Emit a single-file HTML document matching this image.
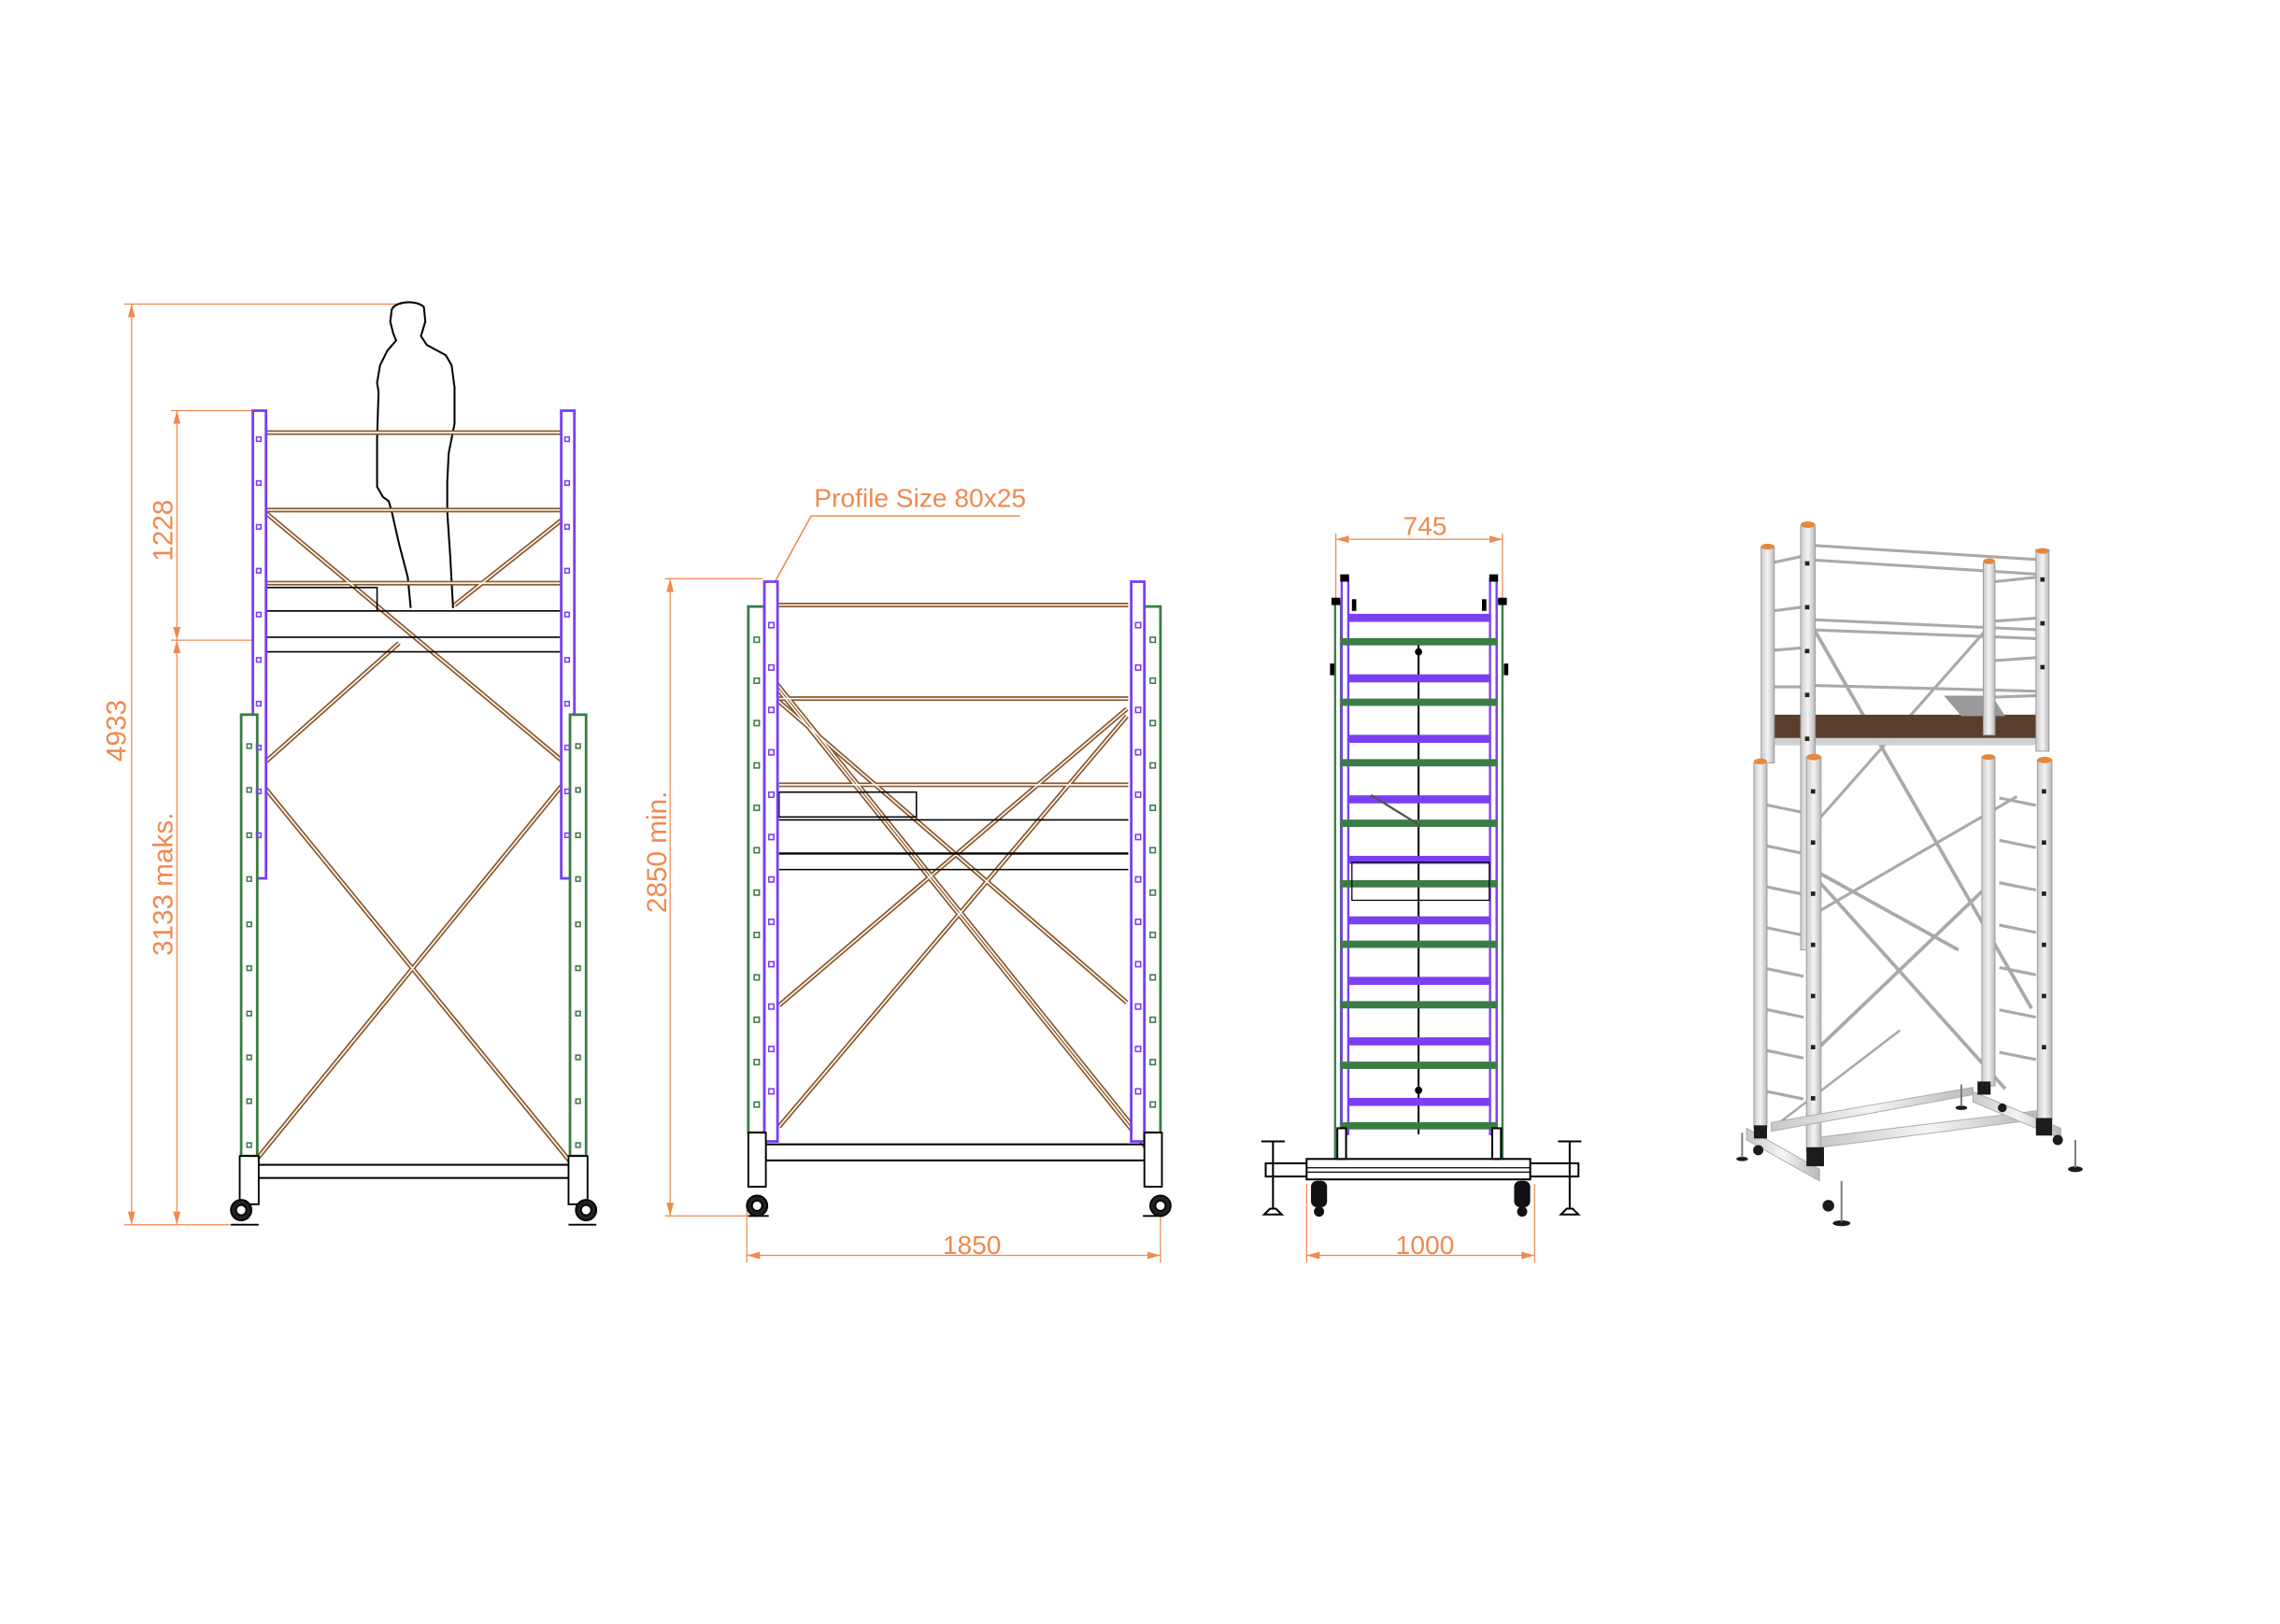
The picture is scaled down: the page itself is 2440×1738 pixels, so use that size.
<!DOCTYPE html>
<html><head><meta charset="utf-8"><style>
html,body{margin:0;padding:0;background:#fff;}
svg{display:block;}
text{font-family:"Liberation Sans",sans-serif;fill:#f0894f;}
</style></head><body>
<svg width="2440" height="1738" viewBox="0 0 1560 1111.2" xmlns="http://www.w3.org/2000/svg">
<defs>
<marker id="ar" viewBox="0 0 10 10" refX="10" refY="5" markerWidth="9" markerHeight="5" markerUnits="userSpaceOnUse" orient="auto-start-reverse" preserveAspectRatio="none"><path d="M0,0L10,5L0,10z" fill="#f0894f"/></marker>
<pattern id="gh" width="20" height="34.4" patternUnits="userSpaceOnUse" y="2"><rect x="0" y="0" width="20" height="34.4" fill="none"/></pattern>
<linearGradient id="al" x1="0" x2="1"><stop offset="0" stop-color="#c8c8c8"/><stop offset=".5" stop-color="#f4f4f4"/><stop offset="1" stop-color="#b8b8b8"/></linearGradient>
</defs>

<!-- ============ LEFT VIEW ============ -->
<g stroke="#f0894f" stroke-width="0.8" fill="none">
<line x1="85" y1="208" x2="275" y2="208"/>
<line x1="85" y1="838" x2="165" y2="838"/>
<line x1="90" y1="208" x2="90" y2="838" marker-start="url(#ar)" marker-end="url(#ar)"/>
<line x1="117" y1="281" x2="175" y2="281"/>
<line x1="117" y1="438" x2="175" y2="438"/>
<line x1="121" y1="281" x2="121" y2="438" marker-start="url(#ar)" marker-end="url(#ar)"/>
<line x1="121" y1="438" x2="121" y2="838" marker-start="url(#ar)" marker-end="url(#ar)"/>
</g>
<text transform="translate(86,500) rotate(-90)" font-size="19" text-anchor="middle">4933</text>
<text transform="translate(118,363) rotate(-90)" font-size="19" text-anchor="middle">1228</text>
<text transform="translate(118,605) rotate(-90)" font-size="19" text-anchor="middle">3133 maks.</text>

<!-- person -->
<path d="M281,416 L279,395 L273,372 L268,350 L266,343 L262,340 L258,333 L258,300 L259,268 L258,262 L260,250 L265,240 L271,233 L269,228 L267,220 L268,212 C270,206 285,205 290,210 L291,220 L288,230 L292,236 L305,243 L309,250 L311,265 L311,290 L307,310 L306,330 L306,350 L308,380 L310,416" fill="none" stroke="#000" stroke-width="1.3"/>

<!-- rails left view -->
<g fill="none" stroke="#8b5a2b" stroke-width="3.2">
<line x1="182" y1="296" x2="384" y2="296"/>
<line x1="182" y1="349" x2="384" y2="349"/>
<line x1="182" y1="399" x2="384" y2="399"/>
<line x1="182" y1="351" x2="384" y2="520"/>
<line x1="182" y1="521" x2="273" y2="440"/>
<line x1="311" y1="414" x2="384" y2="356"/>
<line x1="169" y1="524" x2="396" y2="802"/>
<line x1="175" y1="794" x2="384" y2="538"/>
</g>
<g fill="none" stroke="#fff" stroke-width="1">
<line x1="182" y1="296" x2="384" y2="296"/>
<line x1="182" y1="349" x2="384" y2="349"/>
<line x1="182" y1="399" x2="384" y2="399"/>
<line x1="182" y1="351" x2="384" y2="520"/>
<line x1="182" y1="521" x2="273" y2="440"/>
<line x1="311" y1="414" x2="384" y2="356"/>
<line x1="169" y1="524" x2="396" y2="802"/>
<line x1="175" y1="794" x2="384" y2="538"/>
</g>
<g fill="none" stroke="#000" stroke-width="1">
<rect x="182" y="402" width="76" height="16"/>
<line x1="182" y1="418" x2="384" y2="418"/>
<line x1="182" y1="436" x2="384" y2="436"/>
<line x1="182" y1="446" x2="384" y2="446"/>
<rect x="176" y="797" width="214" height="9" stroke-width="1.3"/>
</g>
<!-- posts left view -->
<g fill="#fff" stroke="#7b3ff2" stroke-width="1.8">
<rect x="173" y="281" width="9" height="320"/>
<rect x="384" y="281" width="9" height="320"/>
</g>
<g fill="#fff" stroke="#3a7d44" stroke-width="1.8">
<rect x="165" y="489" width="11" height="302"/>
<rect x="390" y="489" width="11" height="302"/>
</g>
<g fill="none" stroke="#7b3ff2" stroke-width="1">
<rect x="175.5" y="299" width="3" height="3"/><rect x="175.5" y="329" width="3" height="3"/><rect x="175.5" y="359" width="3" height="3"/><rect x="175.5" y="389" width="3" height="3"/><rect x="175.5" y="419" width="3" height="3"/><rect x="175.5" y="450" width="3" height="3"/><rect x="175.5" y="480" width="3" height="3"/><rect x="175.5" y="510" width="3" height="3"/><rect x="175.5" y="540" width="3" height="3"/><rect x="175.5" y="570" width="3" height="3"/>
<rect x="386.5" y="299" width="3" height="3"/><rect x="386.5" y="329" width="3" height="3"/><rect x="386.5" y="359" width="3" height="3"/><rect x="386.5" y="389" width="3" height="3"/><rect x="386.5" y="419" width="3" height="3"/><rect x="386.5" y="450" width="3" height="3"/><rect x="386.5" y="480" width="3" height="3"/><rect x="386.5" y="510" width="3" height="3"/><rect x="386.5" y="540" width="3" height="3"/><rect x="386.5" y="570" width="3" height="3"/>
</g>
<g fill="none" stroke="#3a7d44" stroke-width="1">
<rect x="169" y="509" width="3" height="3"/><rect x="169" y="539" width="3" height="3"/><rect x="169" y="570" width="3" height="3"/><rect x="169" y="600" width="3" height="3"/><rect x="169" y="631" width="3" height="3"/><rect x="169" y="661" width="3" height="3"/><rect x="169" y="692" width="3" height="3"/><rect x="169" y="722" width="3" height="3"/><rect x="169" y="752" width="3" height="3"/><rect x="169" y="782" width="3" height="3"/>
<rect x="394" y="509" width="3" height="3"/><rect x="394" y="539" width="3" height="3"/><rect x="394" y="570" width="3" height="3"/><rect x="394" y="600" width="3" height="3"/><rect x="394" y="631" width="3" height="3"/><rect x="394" y="661" width="3" height="3"/><rect x="394" y="692" width="3" height="3"/><rect x="394" y="722" width="3" height="3"/><rect x="394" y="752" width="3" height="3"/><rect x="394" y="782" width="3" height="3"/>
</g>
<!-- casters left -->
<g stroke="#000" stroke-width="1.2" fill="#fff">
<rect x="164" y="791" width="13" height="33"/><rect x="389" y="791" width="13" height="33"/>
<circle cx="165" cy="828" r="7" fill="#222"/><circle cx="165" cy="828" r="3.5" fill="#fff"/>
<circle cx="401" cy="828" r="7" fill="#222"/><circle cx="401" cy="828" r="3.5" fill="#fff"/>
<path d="M158,838 h19 M389,838 h19" />
</g>

<!-- ============ MIDDLE VIEW ============ -->
<g stroke="#f0894f" stroke-width="0.8" fill="none">
<line x1="455" y1="396" x2="522" y2="396"/>
<line x1="455" y1="832" x2="515" y2="832"/>
<line x1="458.5" y1="396" x2="458.5" y2="832" marker-start="url(#ar)" marker-end="url(#ar)"/>
<line x1="511" y1="828" x2="511" y2="864"/>
<line x1="794" y1="828" x2="794" y2="864"/>
<line x1="511" y1="859" x2="794" y2="859" marker-start="url(#ar)" marker-end="url(#ar)"/>
<polyline points="527,404 555,353 698,353" stroke-width="1"/>
</g>
<text transform="translate(456,583) rotate(-90)" font-size="19" text-anchor="middle">2850 min.</text>
<text x="665" y="858" font-size="18" text-anchor="middle">1850</text>
<text x="557" y="347" font-size="18">Profile Size 80x25</text>

<g fill="none" stroke="#8b5a2b" stroke-width="3.2">
<line x1="533" y1="414" x2="772" y2="414"/>
<line x1="533" y1="478" x2="772" y2="478"/>
<line x1="533" y1="537" x2="772" y2="537"/>
<line x1="519" y1="455" x2="788" y2="790"/>
<line x1="526" y1="461" x2="780" y2="777"/>
<line x1="533" y1="480" x2="771" y2="686"/>
<line x1="533" y1="688" x2="771" y2="485"/>
<line x1="533" y1="771" x2="771" y2="490"/>
</g>
<g fill="none" stroke="#fff" stroke-width="1">
<line x1="533" y1="414" x2="772" y2="414"/>
<line x1="533" y1="478" x2="772" y2="478"/>
<line x1="533" y1="537" x2="772" y2="537"/>
<line x1="519" y1="455" x2="788" y2="790"/>
<line x1="526" y1="461" x2="780" y2="777"/>
<line x1="533" y1="480" x2="771" y2="686"/>
<line x1="533" y1="688" x2="771" y2="485"/>
<line x1="533" y1="771" x2="771" y2="490"/>
</g>
<g fill="none" stroke="#000" stroke-width="1">
<rect x="533" y="542" width="94" height="17"/>
<line x1="533" y1="561" x2="772" y2="561"/>
<line x1="533" y1="584" x2="772" y2="584" stroke-width="1.5"/>
<line x1="533" y1="595" x2="772" y2="595"/>
<rect x="524" y="783" width="262" height="11" stroke-width="1.3"/>
</g>
<g fill="#fff" stroke="#3a7d44" stroke-width="1.8">
<rect x="512" y="415" width="11" height="360"/>
<rect x="783" y="415" width="11" height="360"/>
</g>
<g fill="#fff" stroke="#7b3ff2" stroke-width="1.8">
<rect x="523" y="398" width="9" height="383"/>
<rect x="774" y="398" width="9" height="383"/>
</g>
<g fill="none" stroke="#3a7d44" stroke-width="1">
<rect x="516" y="436" width="3.5" height="3.5"/><rect x="516" y="464" width="3.5" height="3.5"/><rect x="516" y="493" width="3.5" height="3.5"/><rect x="516" y="522" width="3.5" height="3.5"/><rect x="516" y="551" width="3.5" height="3.5"/><rect x="516" y="580" width="3.5" height="3.5"/><rect x="516" y="609" width="3.5" height="3.5"/><rect x="516" y="638" width="3.5" height="3.5"/><rect x="516" y="667" width="3.5" height="3.5"/><rect x="516" y="696" width="3.5" height="3.5"/><rect x="516" y="725" width="3.5" height="3.5"/><rect x="516" y="754" width="3.5" height="3.5"/>
<rect x="787" y="436" width="3.5" height="3.5"/><rect x="787" y="464" width="3.5" height="3.5"/><rect x="787" y="493" width="3.5" height="3.5"/><rect x="787" y="522" width="3.5" height="3.5"/><rect x="787" y="551" width="3.5" height="3.5"/><rect x="787" y="580" width="3.5" height="3.5"/><rect x="787" y="609" width="3.5" height="3.5"/><rect x="787" y="638" width="3.5" height="3.5"/><rect x="787" y="667" width="3.5" height="3.5"/><rect x="787" y="696" width="3.5" height="3.5"/><rect x="787" y="725" width="3.5" height="3.5"/><rect x="787" y="754" width="3.5" height="3.5"/>
</g>
<g fill="none" stroke="#7b3ff2" stroke-width="1">
<rect x="526" y="426" width="3.5" height="3.5"/><rect x="526" y="455" width="3.5" height="3.5"/><rect x="526" y="484" width="3.5" height="3.5"/><rect x="526" y="513" width="3.5" height="3.5"/><rect x="526" y="542" width="3.5" height="3.5"/><rect x="526" y="571" width="3.5" height="3.5"/><rect x="526" y="600" width="3.5" height="3.5"/><rect x="526" y="629" width="3.5" height="3.5"/><rect x="526" y="658" width="3.5" height="3.5"/><rect x="526" y="687" width="3.5" height="3.5"/><rect x="526" y="716" width="3.5" height="3.5"/><rect x="526" y="745" width="3.5" height="3.5"/>
<rect x="777" y="426" width="3.5" height="3.5"/><rect x="777" y="455" width="3.5" height="3.5"/><rect x="777" y="484" width="3.5" height="3.5"/><rect x="777" y="513" width="3.5" height="3.5"/><rect x="777" y="542" width="3.5" height="3.5"/><rect x="777" y="571" width="3.5" height="3.5"/><rect x="777" y="600" width="3.5" height="3.5"/><rect x="777" y="629" width="3.5" height="3.5"/><rect x="777" y="658" width="3.5" height="3.5"/><rect x="777" y="687" width="3.5" height="3.5"/><rect x="777" y="716" width="3.5" height="3.5"/><rect x="777" y="745" width="3.5" height="3.5"/>
</g>
<g stroke="#000" stroke-width="1.2" fill="#fff">
<rect x="512" y="775" width="12" height="37"/><rect x="783" y="775" width="12" height="37"/>
<circle cx="518" cy="825" r="7" fill="#222"/><circle cx="518" cy="825" r="3.5" fill="#fff"/>
<circle cx="794" cy="825" r="7" fill="#222"/><circle cx="794" cy="825" r="3.5" fill="#fff"/>
<path d="M512,832 h14 M782,832 h14"/>
</g>

<!-- ============ SIDE VIEW ============ -->
<g stroke="#f0894f" stroke-width="0.8" fill="none">
<line x1="914" y1="365" x2="914" y2="412"/>
<line x1="1028" y1="365" x2="1028" y2="412"/>
<line x1="914" y1="369" x2="1028" y2="369" marker-start="url(#ar)" marker-end="url(#ar)"/>
<line x1="894" y1="810" x2="894" y2="864"/>
<line x1="1050" y1="810" x2="1050" y2="864"/>
<line x1="894" y1="859" x2="1050" y2="859" marker-start="url(#ar)" marker-end="url(#ar)"/>
</g>
<text x="975" y="366" font-size="18" text-anchor="middle">745</text>
<text x="975" y="858" font-size="18" text-anchor="middle">1000</text>

<g fill="#fff" stroke="#3a7d44" stroke-width="1.5">
<rect x="913.5" y="411" width="4" height="382"/>
<rect x="1024" y="411" width="4" height="382"/>
</g>
<g fill="#fff" stroke="#7b3ff2" stroke-width="1.5">
<rect x="918" y="396" width="4.5" height="380"/>
<rect x="1019.5" y="396" width="4.5" height="380"/>
</g>
<line x1="970.6" y1="440" x2="970.6" y2="776" stroke="#000" stroke-width="1.3"/>
<g fill="#7b3ff2">
<rect x="922" y="420" width="98" height="5.5"/><rect x="922" y="461.4" width="98" height="5.5"/><rect x="922" y="502.8" width="98" height="5.5"/><rect x="922" y="544.2" width="98" height="5.5"/><rect x="922" y="585.6" width="98" height="5.5"/><rect x="922" y="627" width="98" height="5.5"/><rect x="922" y="668.4" width="98" height="5.5"/><rect x="922" y="709.8" width="98" height="5.5"/><rect x="922" y="751.2" width="98" height="5.5"/>
</g>
<g fill="#3a7d44">
<rect x="917.5" y="436.6" width="107" height="5"/><rect x="917.5" y="478" width="107" height="5"/><rect x="917.5" y="519.4" width="107" height="5"/><rect x="917.5" y="560.8" width="107" height="5"/><rect x="917.5" y="602.2" width="107" height="5"/><rect x="917.5" y="643.6" width="107" height="5"/><rect x="917.5" y="685" width="107" height="5"/><rect x="917.5" y="726.4" width="107" height="5"/><rect x="917.5" y="767.8" width="107" height="5"/>
</g>
<g fill="#000">
<rect x="917" y="393" width="6" height="5"/><rect x="1019" y="393" width="6" height="5"/>
<rect x="911" y="409" width="6" height="5"/><rect x="1025" y="409" width="6" height="5"/>
<rect x="925" y="410" width="3" height="8"/><rect x="1014" y="410" width="3" height="8"/>
<rect x="910" y="454" width="3" height="8"/><rect x="1029" y="454" width="3" height="8"/>
<circle cx="970.6" cy="446" r="2.5"/><circle cx="970.6" cy="746" r="2.5"/>
</g>
<rect x="925" y="590" width="94" height="26" fill="none" stroke="#000" stroke-width="0.8"/>
<line x1="938" y1="544" x2="972" y2="565" stroke="#555" stroke-width="1.5"/>
<!-- base -->
<g stroke="#000" stroke-width="1.3" fill="#fff">
<rect x="866" y="796" width="214" height="9"/>
<rect x="894" y="793" width="153" height="14"/>
<line x1="894" y1="799" x2="1047" y2="799" stroke-width="0.8"/>
<line x1="894" y1="802" x2="1047" y2="802" stroke-width="0.8"/>
<rect x="915" y="772" width="6" height="21"/><rect x="1021" y="772" width="6" height="21"/>
<line x1="871" y1="781" x2="871" y2="829"/><line x1="863" y1="781" x2="879" y2="781"/>
<line x1="1074" y1="781" x2="1074" y2="829"/><line x1="1066" y1="781" x2="1082" y2="781"/>
<path d="M865,831 l4,-4 h4 l4,4z M1068,831 l4,-4 h4 l4,4z" fill="#fff"/>
</g>
<g fill="#111">
<rect x="897" y="808" width="11" height="18" rx="4"/><rect x="1036" y="808" width="11" height="18" rx="4"/>
<circle cx="902.5" cy="829" r="3.5"/><circle cx="1041.5" cy="829" r="3.5"/>
</g>

<!-- ============ 3D RENDER ============ -->
<g>
<!-- upper rails -->
<g stroke="#a9a9a9" stroke-width="2" fill="none">
<line x1="1238" y1="373" x2="1396" y2="383"/>
<line x1="1238" y1="383" x2="1396" y2="393"/>
<line x1="1213" y1="385" x2="1236" y2="380"/>
<line x1="1213" y1="418" x2="1236" y2="415"/>
<line x1="1213" y1="445" x2="1236" y2="443"/>
<line x1="1213" y1="470" x2="1236" y2="470"/>
<line x1="1240" y1="424" x2="1396" y2="431"/>
<line x1="1240" y1="431" x2="1396" y2="437"/>
<line x1="1240" y1="469" x2="1396" y2="473"/>
<line x1="1365" y1="398" x2="1393" y2="395"/>
<line x1="1365" y1="425" x2="1393" y2="423"/>
<line x1="1365" y1="452" x2="1393" y2="450"/>
<line x1="1365" y1="477" x2="1393" y2="476"/>
<!-- diagonals -->
<line x1="1242" y1="432" x2="1390" y2="690" stroke-width="2.4"/>
<line x1="1242" y1="625" x2="1380" y2="545" stroke-width="2"/>
<line x1="1245" y1="560" x2="1358" y2="432" stroke-width="2"/>
<line x1="1246" y1="598" x2="1340" y2="650" stroke-width="2.4"/>
<line x1="1240" y1="598" x2="1372" y2="745" stroke-width="2.4"/>
<line x1="1241" y1="720" x2="1356" y2="610" stroke-width="2.4"/>
<line x1="1215" y1="770" x2="1300" y2="705" stroke-width="1.6"/>
<!-- lower ladder rungs -->
<line x1="1205" y1="550" x2="1234" y2="556"/>
<line x1="1205" y1="578" x2="1234" y2="584"/>
<line x1="1205" y1="606" x2="1234" y2="612"/>
<line x1="1205" y1="634" x2="1234" y2="640"/>
<line x1="1205" y1="662" x2="1234" y2="668"/>
<line x1="1205" y1="690" x2="1234" y2="696"/>
<line x1="1205" y1="718" x2="1234" y2="724"/>
<line x1="1205" y1="746" x2="1234" y2="752"/>
<line x1="1368" y1="546" x2="1393" y2="551"/>
<line x1="1368" y1="575" x2="1393" y2="580"/>
<line x1="1368" y1="604" x2="1393" y2="609"/>
<line x1="1368" y1="633" x2="1393" y2="638"/>
<line x1="1368" y1="662" x2="1393" y2="667"/>
<line x1="1368" y1="691" x2="1393" y2="696"/>
<line x1="1368" y1="720" x2="1393" y2="725"/>
</g>
<!-- platform -->
<polygon points="1208,489 1395,489 1395,505 1208,505" fill="#5a3e2b"/>
<polygon points="1210,505 1395,505 1392,510 1215,510" fill="#d0d0d0"/>
<polygon points="1330,476 1363,476 1372,490 1342,490" fill="#9a9a9a"/>
<!-- posts -->
<g fill="url(#al)" stroke="#9a9a9a" stroke-width="0.6">
<rect x="1205" y="374" width="9" height="148"/>
<rect x="1357" y="385" width="8" height="118"/>
<rect x="1232" y="360" width="10" height="290"/>
<rect x="1393" y="376" width="9" height="138"/>
<rect x="1200" y="522" width="9" height="250"/>
<rect x="1236" y="518" width="10" height="270"/>
<rect x="1356" y="518" width="9" height="225"/>
<rect x="1394" y="520" width="10" height="255"/>
</g>
<g fill="#e8873a">
<ellipse cx="1237" cy="359" rx="5" ry="2.2"/><ellipse cx="1209.5" cy="374" rx="4.5" ry="2"/>
<ellipse cx="1397.5" cy="377" rx="4.5" ry="2"/><ellipse cx="1361" cy="384" rx="4" ry="2"/>
<ellipse cx="1241" cy="518" rx="5" ry="2.2"/><ellipse cx="1204.5" cy="521" rx="4.5" ry="2"/>
<ellipse cx="1399" cy="520" rx="5" ry="2.2"/><ellipse cx="1360.5" cy="518" rx="4.5" ry="2"/>
</g>
<g fill="#222">
<rect x="1235" y="384" width="3" height="3"/><rect x="1235" y="414" width="3" height="3"/><rect x="1235" y="444" width="3" height="3"/><rect x="1235" y="474" width="3" height="3"/><rect x="1235" y="504" width="3" height="3"/>
<rect x="1239" y="540" width="3" height="3"/><rect x="1239" y="575" width="3" height="3"/><rect x="1239" y="610" width="3" height="3"/><rect x="1239" y="645" width="3" height="3"/><rect x="1239" y="680" width="3" height="3"/><rect x="1239" y="715" width="3" height="3"/><rect x="1239" y="750" width="3" height="3"/>
<rect x="1396" y="395" width="3" height="3"/><rect x="1396" y="425" width="3" height="3"/><rect x="1396" y="455" width="3" height="3"/>
<rect x="1397" y="540" width="3" height="3"/><rect x="1397" y="575" width="3" height="3"/><rect x="1397" y="610" width="3" height="3"/><rect x="1397" y="645" width="3" height="3"/><rect x="1397" y="680" width="3" height="3"/><rect x="1397" y="715" width="3" height="3"/>
</g>
<!-- base -->
<g stroke="#aaa" stroke-width="0.6" fill="url(#al)">
<polygon points="1246,778 1394,760 1394,766 1246,785"/>
<polygon points="1212,768 1350,744 1350,749 1212,774"/>
<polygon points="1195,772 1245,800 1245,808 1195,780"/>
<polygon points="1350,747 1410,772 1410,779 1350,754"/>
</g>
<g fill="#1c1c1c">
<rect x="1236" y="785" width="12" height="13"/><rect x="1200" y="770" width="9" height="9"/>
<rect x="1393" y="765" width="11" height="12"/><rect x="1353" y="740" width="9" height="9"/>
<circle cx="1251" cy="825" r="4"/><circle cx="1203" cy="787" r="3.5"/>
<circle cx="1408" cy="780" r="3.5"/><circle cx="1370" cy="758" r="3"/>
<ellipse cx="1260" cy="837" rx="6" ry="2"/><ellipse cx="1420" cy="800" rx="5" ry="2"/>
<ellipse cx="1342" cy="758" rx="4" ry="1.5"/><ellipse cx="1192" cy="793" rx="4" ry="1.5"/>
</g>
<g stroke="#777" stroke-width="1.2">
<line x1="1260" y1="808" x2="1260" y2="836"/><line x1="1420" y1="780" x2="1420" y2="799"/>
<line x1="1342" y1="742" x2="1342" y2="757"/><line x1="1192" y1="775" x2="1192" y2="792"/>
</g>
</g>
</svg>
</body></html>
